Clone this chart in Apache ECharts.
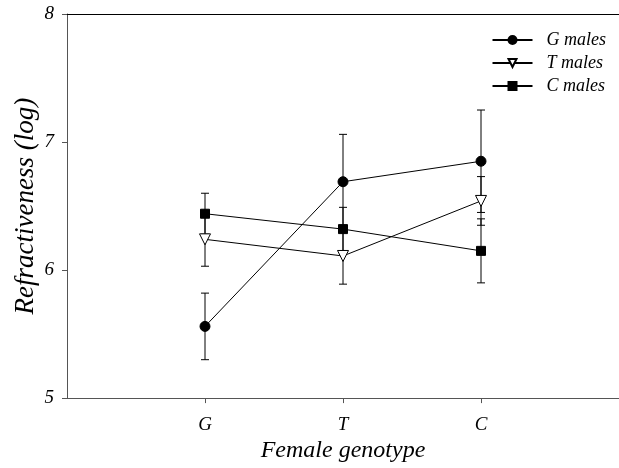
<!DOCTYPE html>
<html>
<head>
<meta charset="utf-8">
<script src="https://cdn.jsdelivr.net/npm/echarts@6/dist/echarts.min.js"></script>
<style>
  html, body { margin: 0; padding: 0; background: #fff; }
  #chart { width: 619px; height: 468px; }
</style>
</head>
<body>
<div id="chart"></div>
<script>
const categories = ['G', 'T', 'C'];
const categoryPos = [1, 2, 3];
const yTicks = [5, 6, 7, 8];

const gMales = [5.56, 6.69, 6.85];
const gMalesErr = [0.26, 0.37, 0.40];
const tMales = [6.24, 6.11, 6.54];
const tMalesErr = [0.21, 0.22, 0.19];
const cMales = [6.44, 6.32, 6.15];
const cMalesErr = [0.16, 0.17, 0.25];

const serif = '"Liberation Serif", "Times New Roman", serif';
const chart = echarts.init(document.getElementById('chart'), null, { renderer: 'canvas' });

function points(values) {
  return values.map((v, i) => [categoryPos[i], v]);
}

function errorBars(name, values, errs) {
  return {
    name: name + ' err',
    type: 'custom',
    z: 1,
    silent: true,
    data: values.map((v, i) => [categoryPos[i], v, errs[i]]),
    renderItem(params, api) {
      const x = api.value(0);
      const top = api.coord([x, api.value(1) + api.value(2)]);
      const bottom = api.coord([x, api.value(1) - api.value(2)]);
      const cap = 4;
      const style = { stroke: '#000', lineWidth: 1 };
      return {
        type: 'group',
        children: [
          { type: 'line', shape: { x1: top[0], y1: top[1], x2: bottom[0], y2: bottom[1] }, style },
          { type: 'line', shape: { x1: top[0] - cap, y1: top[1], x2: top[0] + cap, y2: top[1] }, style },
          { type: 'line', shape: { x1: bottom[0] - cap, y1: bottom[1], x2: bottom[0] + cap, y2: bottom[1] }, style },
        ],
      };
    },
  };
}

function lineSeries(name, values, symbol, size, fill, rotate) {
  return {
    name,
    type: 'line',
    z: 3,
    data: points(values),
    symbol,
    symbolSize: size,
    symbolRotate: rotate || 0,
    showAllSymbol: true,
    lineStyle: { color: '#000', width: 1 },
    itemStyle: { color: fill, borderColor: '#000', borderWidth: 1 },
    emphasis: { disabled: true },
  };
}

chart.setOption({
  backgroundColor: '#fff',
  animation: false,
  grid: { left: 67, right: 0, top: 14, bottom: 67 },
  legend: {
    orient: 'vertical',
    right: 8,
    top: 26,
    itemWidth: 40,
    itemHeight: 10,
    itemGap: 5,
    data: ['G males', 'T males', 'C males'],
    textStyle: {
      fontFamily: serif,
      fontStyle: 'italic',
      fontSize: 18,
      color: '#000',
      padding: [0, 0, 0, 9],
    },
  },
  xAxis: [
    {
      type: 'value',
      min: 0,
      max: 4,
      interval: 1,
      name: 'Female genotype',
      nameLocation: 'middle',
      nameGap: 39,
      nameTextStyle: { fontFamily: serif, fontStyle: 'italic', fontSize: 24, color: '#000' },
      axisLine: { lineStyle: { color: '#555', width: 1 } },
      axisTick: { length: 5, customValues: categoryPos, lineStyle: { color: '#555' } },
      axisLabel: {
        customValues: categoryPos,
        formatter: (v) => categories[categoryPos.indexOf(v)] || '',
        margin: 17,
        fontFamily: serif,
        fontStyle: 'italic',
        fontSize: 19,
        color: '#000',
      },
      splitLine: { show: false },
    },
    {
      type: 'value',
      position: 'top',
      min: 0,
      max: 4,
      axisLine: { show: true, lineStyle: { color: '#000', width: 1 } },
      axisTick: { show: false },
      axisLabel: { show: false },
      splitLine: { show: false },
    },
  ],
  yAxis: {
    type: 'value',
    min: 5,
    max: 8,
    interval: 1,
    name: 'Refractiveness (log)',
    nameLocation: 'middle',
    nameGap: 28,
    nameMoveOverlap: false,
    nameTextStyle: { fontFamily: serif, fontStyle: 'italic', fontSize: 27, color: '#000' },
    axisLine: { show: true, lineStyle: { color: '#555', width: 1 } },
    axisTick: { show: true, length: 5, lineStyle: { color: '#555' } },
    axisLabel: {
      margin: 13,
      fontFamily: serif,
      fontStyle: 'italic',
      fontSize: 19,
      color: '#000',
      formatter: (v) => (yTicks.includes(v) ? String(v) : ''),
    },
    splitLine: { show: false },
  },
  series: [
    errorBars('G males', gMales, gMalesErr),
    errorBars('T males', tMales, tMalesErr),
    errorBars('C males', cMales, cMalesErr),
    lineSeries('G males', gMales, 'circle', 10, '#000'),
    lineSeries('T males', tMales, 'triangle', 11, '#fff', 180),
    lineSeries('C males', cMales, 'rect', 9, '#000'),
  ],
});
window.addEventListener('resize', () => chart.resize());
</script>
</body>
</html>
